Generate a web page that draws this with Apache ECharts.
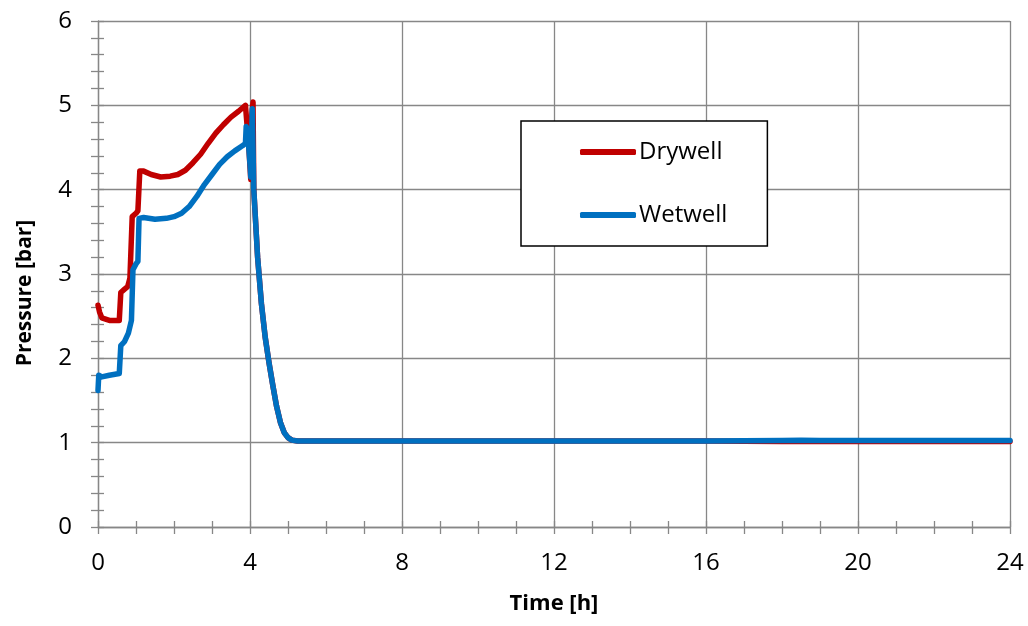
<!DOCTYPE html>
<html>
<head>
<meta charset="utf-8">
<script src="https://cdn.jsdelivr.net/npm/echarts@6/dist/echarts.min.js"></script>
<style>
html,body{margin:0;padding:0;background:#fff;}
#chart{width:1028px;height:626px;}
</style>
</head>
<body>
<div id="chart"></div>
<script>
const seriesNames = ['Drywell', 'Wetwell'];
const xTicks = [0, 4, 8, 12, 16, 20, 24];
const yTicks = [0, 1, 2, 3, 4, 5, 6];

const timeDry = [0, 0.04, 0.1, 0.3, 0.56, 0.6, 0.7, 0.78, 0.84, 0.9, 1.0, 1.05, 1.1, 1.2, 1.4, 1.65, 1.9, 2.1, 2.3, 2.5, 2.7, 2.9, 3.1, 3.3, 3.5, 3.7, 3.88, 3.93, 3.97, 4.02, 4.05, 4.08, 4.1, 4.2, 4.3, 4.4, 4.5, 4.6, 4.7, 4.8, 4.9, 5.0, 5.1, 5.25, 6, 8, 12, 16, 18, 20, 24];
const pDry    = [2.63, 2.55, 2.48, 2.45, 2.45, 2.78, 2.82, 2.85, 2.95, 3.68, 3.72, 3.75, 4.22, 4.22, 4.18, 4.15, 4.16, 4.18, 4.23, 4.32, 4.42, 4.55, 4.67, 4.77, 4.86, 4.93, 5.0, 5.0, 4.5, 4.12, 4.9, 5.04, 4.0, 3.2, 2.65, 2.25, 1.95, 1.68, 1.43, 1.24, 1.12, 1.06, 1.03, 1.02, 1.02, 1.02, 1.02, 1.02, 1.015, 1.015, 1.015];

const timeWet = [0, 0.02, 0.1, 0.3, 0.56, 0.6, 0.7, 0.8, 0.88, 0.92, 1.0, 1.05, 1.08, 1.2, 1.5, 1.8, 2.0, 2.2, 2.4, 2.6, 2.8, 3.0, 3.2, 3.4, 3.6, 3.8, 3.88, 3.9, 3.95, 4.0, 4.02, 4.06, 4.1, 4.2, 4.3, 4.4, 4.5, 4.6, 4.7, 4.8, 4.9, 5.0, 5.1, 5.25, 6, 8, 12, 16, 18, 18.5, 19, 20, 24];
const pWet    = [1.62, 1.8, 1.78, 1.8, 1.82, 2.15, 2.2, 2.3, 2.45, 3.05, 3.12, 3.15, 3.66, 3.67, 3.65, 3.66, 3.68, 3.72, 3.8, 3.92, 4.06, 4.18, 4.3, 4.39, 4.46, 4.52, 4.55, 4.75, 4.6, 4.3, 4.15, 4.96, 4.0, 3.2, 2.65, 2.25, 1.95, 1.68, 1.43, 1.24, 1.12, 1.06, 1.03, 1.02, 1.02, 1.02, 1.02, 1.02, 1.025, 1.03, 1.025, 1.025, 1.025];

const dryData = timeDry.map((t, i) => [t, pDry[i]]);
const wetData = timeWet.map((t, i) => [t, pWet[i]]);

const gridColor = '#878787';
const font = '"Open Sans", "Noto Sans", sans-serif';

const chart = echarts.init(document.getElementById('chart'), null, {renderer: 'canvas'});
chart.setOption({
  animation: false,
  backgroundColor: '#ffffff',
  grid: {left: 98, right: 18, top: 21, bottom: 99, containLabel: false},
  legend: {
    orient: 'vertical',
    left: 521, top: 121,
    padding: [16, 40, 16, 59],
    itemGap: 33,
    itemWidth: 56, itemHeight: 6,
    borderColor: '#000', borderWidth: 1.5,
    backgroundColor: '#fff',
    data: [
      {name: seriesNames[0], icon: 'roundRect', itemStyle: {color: '#C00000'}},
      {name: seriesNames[1], icon: 'roundRect', itemStyle: {color: '#0070C0'}}
    ],
    textStyle: {fontFamily: font, fontSize: 24, color: '#000', lineHeight: 30, padding: [0,0,0,-2]}
  },
  xAxis: [{
    type: 'value', min: xTicks[0], max: xTicks[xTicks.length-1], interval: 4,
    name: 'Time [h]', nameLocation: 'middle', nameGap: 66,
    nameTextStyle: {fontFamily: font, fontSize: 22, fontWeight: 'bold', color: '#000'},
    axisLine: {show: true, lineStyle: {color: gridColor, width: 1.3}},
    axisTick: {show: true, length: 7, lineStyle: {color: gridColor, width: 1.3}},
    minorTick: {show: true, splitNumber: 4, length: 7, lineStyle: {color: gridColor, width: 1.3}},
    axisLabel: {fontFamily: font, fontSize: 24, color: '#000', margin: 24},
    splitLine: {show: true, lineStyle: {color: gridColor, width: 1.3}}
  }, {
    type: 'value', min: xTicks[0], max: xTicks[xTicks.length-1], interval: 4, position: 'bottom',
    axisLine: {show: false},
    axisTick: {show: true, inside: true, length: 6, lineStyle: {color: gridColor, width: 1.3}},
    minorTick: {show: true, splitNumber: 4, length: 6, lineStyle: {color: gridColor, width: 1.3}},
    axisLabel: {show: false}, splitLine: {show: false}
  }],
  yAxis: [{
    type: 'value', min: yTicks[0], max: yTicks[yTicks.length-1], interval: 1,
    name: 'Pressure [bar]', nameLocation: 'middle', nameGap: 62,
    nameTextStyle: {fontFamily: font, fontSize: 21, fontWeight: 'bold', color: '#000', padding: [0, 38, 0, 0]},
    axisLine: {show: true, lineStyle: {color: gridColor, width: 1.3}},
    axisTick: {show: true, length: 7, lineStyle: {color: gridColor, width: 1.3}},
    minorTick: {show: true, splitNumber: 5, length: 7, lineStyle: {color: gridColor, width: 1.3}},
    axisLabel: {fontFamily: font, fontSize: 24, color: '#000', margin: 26},
    splitLine: {show: true, lineStyle: {color: gridColor, width: 1.3}}
  }, {
    type: 'value', min: yTicks[0], max: yTicks[yTicks.length-1], interval: 1, position: 'left',
    axisLine: {show: false},
    axisTick: {show: true, inside: true, length: 6, lineStyle: {color: gridColor, width: 1.3}},
    minorTick: {show: true, splitNumber: 5, length: 6, lineStyle: {color: gridColor, width: 1.3}},
    axisLabel: {show: false}, splitLine: {show: false}
  }],
  series: [{
    name: seriesNames[0], type: 'line', data: dryData, showSymbol: false, symbol: 'none',
    lineStyle: {color: '#C00000', width: 5.5, cap: 'round', join: 'round'},
    itemStyle: {color: '#C00000'}, z: 3
  }, {
    name: seriesNames[1], type: 'line', data: wetData, showSymbol: false, symbol: 'none',
    lineStyle: {color: '#0070C0', width: 5.5, cap: 'round', join: 'round'},
    itemStyle: {color: '#0070C0'}, z: 4
  }]
});
</script>
</body>
</html>
